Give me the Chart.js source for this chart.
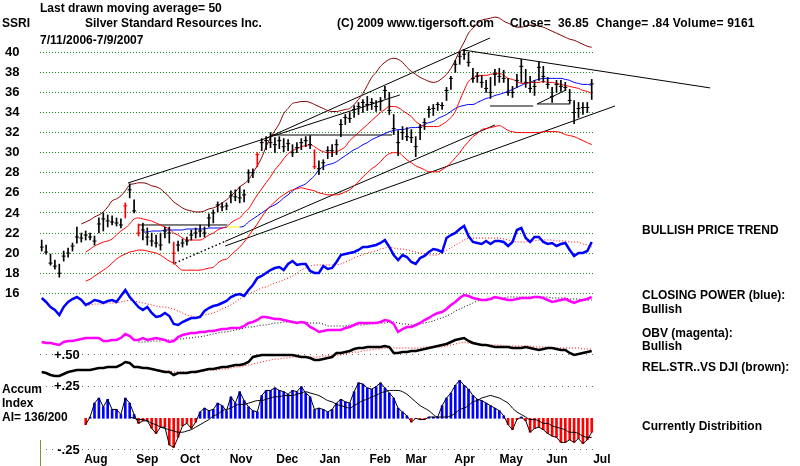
<!DOCTYPE html>
<html><head><meta charset="utf-8">
<script src="https://cdn.jsdelivr.net/npm/chart.js@4.4.1/dist/chart.umd.min.js"></script>
<style>
html,body{margin:0;padding:0;background:#fff;}
#wrap{position:relative;width:800px;height:466px;overflow:hidden;font-family:"Liberation Sans",Arial,sans-serif;font-weight:bold;font-size:12px;color:#000;}
#wrap canvas{position:absolute;left:0;top:0;}
.t{position:absolute;white-space:pre;line-height:12px;}
</style></head><body>
<div id="wrap">
<canvas id="c" width="800" height="466"></canvas>
<div class="t" style="left:40px;top:2px">Last drawn moving average= 50</div>
<div class="t" style="left:2px;top:17px">SSRI</div>
<div class="t" style="left:85px;top:17px">Silver Standard Resources Inc.</div>
<div class="t" style="left:337px;top:17px">(C) 2009 www.tigersoft.com</div>
<div class="t" style="left:510px;top:17px;letter-spacing:0.2px">Close=  36.85  Change= .84 Volume= 9161</div>
<div class="t" style="left:40px;top:34px">7/11/2006-7/9/2007</div>
<div class="t" style="left:642px;top:224px">BULLISH PRICE TREND</div>
<div class="t" style="left:642px;top:289px">CLOSING POWER (blue):</div>
<div class="t" style="left:642px;top:303px">Bullish</div>
<div class="t" style="left:642px;top:327px">OBV (magenta):</div>
<div class="t" style="left:642px;top:340px">Bullish</div>
<div class="t" style="left:642px;top:361px">REL.STR..VS DJI (brown):</div>
<div class="t" style="left:642px;top:420px">Currently Distribition</div>
<div class="t" style="left:2px;top:383px">Accum</div>
<div class="t" style="left:2px;top:397px">Index</div>
<div class="t" style="left:2px;top:411px">AI= 136/200</div>
<div style="position:absolute;left:40px;top:440px;width:1px;height:26px;background:#8a8a3a"></div>
</div>
<script>
// ---------- data (one bar every two trading days, 7/11/2006 - 7/9/2007) ----------
const high = [21.3,20.8,19.9,19.3,18.9,20.2,20.5,21.0,22.6,22.0,
22.2,22.0,21.7,23.5,24.0,23.8,23.7,23.5,23.4,25.0,
26.9,25.3,22.9,23.0,22.5,22.0,21.8,22.0,22.6,22.6,
21.1,21.2,21.4,21.6,22.3,22.5,22.8,22.6,23.9,24.3,
25.1,25.0,25.0,26.2,26.3,26.6,26.3,28.3,28.4,30.0,
31.4,31.6,32.0,31.5,31.6,31.4,31.3,30.8,31.0,31.4,
31.6,31.7,30.3,29.2,29.3,30.6,30.8,31.3,33.3,33.8,
34.0,34.7,35.0,35.3,35.6,35.4,35.2,35.5,36.6,36.0,
33.8,32.2,32.6,32.5,32.3,31.6,32.8,33.4,34.6,34.8,
35.0,35.0,36.5,37.6,39.2,40.0,40.3,40.0,38.4,38.0,
37.7,37.2,37.5,38.3,38.4,38.2,37.4,36.6,37.8,39.3,
38.3,37.6,37.2,39.0,38.6,37.5,36.5,37.2,37.2,37.0,
36.3,35.2,35.0,35.0,35.0,37.3];
const low = [20.2,19.9,18.8,18.4,17.6,19.2,19.6,20.2,21.0,21.1,
21.3,21.3,20.8,22.0,22.2,22.6,22.8,22.7,22.5,23.5,
25.5,24.0,21.7,21.3,20.8,20.7,20.6,20.3,21.5,21.0,
18.9,20.2,20.6,20.8,21.3,21.5,21.6,21.6,22.6,23.0,
24.1,24.2,24.3,25.0,25.2,25.0,25.1,27.0,27.5,28.6,
30.2,30.3,30.5,30.0,30.4,30.1,30.2,29.6,30.0,30.3,
30.6,30.4,28.4,27.8,28.3,29.4,29.6,29.8,31.6,32.8,
33.0,33.5,33.8,34.0,34.2,34.3,34.1,34.2,35.4,33.8,
31.8,29.7,31.3,31.2,31.0,29.6,31.3,32.3,33.5,33.7,
34.2,34.3,35.2,36.3,38.0,38.8,39.3,38.6,37.0,37.0,
36.5,36.0,35.4,36.7,37.0,37.0,35.7,35.5,36.5,37.0,
36.5,36.0,35.7,37.2,37.0,36.4,35.0,36.0,36.1,36.2,
34.9,32.9,33.5,33.8,34.0,35.3];
const close = [20.6,20.1,19.0,18.7,18.0,19.7,20.0,20.7,21.6,21.5,
21.8,21.6,21.2,22.9,23.4,23.2,23.1,23.0,22.8,24.7,
26.3,24.2,22.0,22.3,21.6,21.2,21.0,20.8,22.2,22.0,
20.0,20.8,21.0,21.2,21.8,22.0,22.2,22.0,23.5,24.0,
24.8,24.6,24.7,25.7,25.6,25.5,25.8,28.0,28.0,29.8,
31.0,31.2,31.0,30.8,31.2,30.6,30.9,30.0,30.5,31.0,
31.2,30.8,28.6,28.4,29.0,30.2,30.2,30.8,32.8,33.5,
33.4,34.3,34.6,35.0,34.8,35.0,34.6,35.1,36.2,34.2,
32.4,31.0,32.0,31.6,31.5,30.6,32.5,33.0,34.3,34.4,
34.8,34.7,36.2,37.4,38.8,39.6,39.8,39.0,37.4,37.6,
37.0,36.4,36.0,37.8,37.6,37.4,36.0,36.0,37.2,38.6,
37.0,36.4,36.6,38.5,37.6,36.8,35.6,36.8,36.6,36.5,
35.2,34.0,34.4,34.5,34.5,36.85];
const redBarDays = [19,22,30,49,62];

const upperBandStart = 9;
const upperBand = [22.9,23.1,23.3,23.6,23.8,24.1,24.6,25.2,25.4,25.7,
26.2,26.8,26.9,27.0,27.0,26.9,26.7,26.6,26.4,26.0,
25.6,25.1,24.8,24.5,24.3,24.2,24.1,24.1,24.2,24.4,
24.5,24.7,25.0,25.3,25.7,26.1,26.6,26.9,27.3,28.0,
28.7,29.5,30.6,31.5,32.2,32.9,33.9,34.4,34.9,35.0,
35.1,35.1,35.0,34.8,34.6,34.4,34.2,34.1,34.1,34.2,
34.3,34.4,34.8,35.3,35.9,36.7,37.5,38.0,38.6,39.0,
39.3,39.4,39.3,39.0,38.5,38.1,37.8,37.5,37.3,37.1,
37.0,37.1,37.4,37.8,38.4,39.2,40.2,41.0,41.9,42.4,
42.8,43.2,43.3,43.4,43.5,43.4,43.1,42.9,42.7,42.5,
42.5,42.6,42.7,42.7,42.6,42.5,42.3,42.1,41.9,41.7,
41.5,41.3,41.2,41.0,40.8,40.6,40.5];
const midAvgStart = 10;
const midAvg = [20.1,20.4,20.7,20.9,21.1,21.2,21.4,21.8,22.2,22.5,
22.9,23.4,23.5,23.4,23.3,23.2,23.0,22.8,22.6,22.4,
22.0,21.8,21.5,21.3,21.3,21.3,21.3,21.5,21.8,22.0,
22.3,22.5,22.6,23.0,23.3,23.5,24.0,24.4,25.1,25.8,
26.4,27.0,27.6,28.3,28.8,29.4,29.9,30.2,30.4,30.6,
30.7,30.8,30.6,30.3,30.1,30.0,30.0,30.1,30.3,30.6,
31.2,31.6,32.0,32.4,32.8,33.2,33.6,34.0,34.3,34.6,
34.6,34.5,34.2,33.9,33.6,33.1,32.8,32.6,32.6,32.6,
32.6,32.8,33.1,33.5,34.1,35.2,36.2,37.1,37.4,37.7,
37.7,37.7,37.8,37.9,37.9,37.7,37.4,37.3,37.1,36.9,
36.9,37.0,37.0,37.0,37.1,37.0,37.0,36.9,36.8,36.7,
36.6,36.5,36.4,36.2,36.1,35.9];
const lowerBandStart = 10;
const lowerBand = [17.2,17.4,17.7,18.0,18.3,18.6,19.0,19.4,19.7,19.9,
20.1,20.2,20.3,20.3,20.2,20.1,20.0,19.8,19.5,19.2,
19.0,18.6,18.3,18.3,18.3,18.3,18.3,18.4,18.5,18.6,
19.0,19.3,19.4,19.8,20.2,20.6,21.1,21.7,22.3,22.9,
23.6,24.2,24.7,25.1,25.5,25.8,26.1,26.3,26.4,26.5,
26.4,26.3,26.2,26.0,25.9,25.8,25.8,25.8,25.9,26.1,
26.3,26.7,27.1,27.6,28.0,28.4,28.7,29.1,29.6,29.9,
30.0,30.0,29.7,29.3,29.0,28.7,28.5,28.3,28.1,28.1,
28.1,28.3,28.6,29.0,29.5,30.0,30.6,31.1,31.6,31.9,
32.3,32.4,32.5,32.6,32.7,32.5,32.2,32.1,32.0,32.0,
32.0,32.0,32.0,32.0,32.1,32.1,32.1,32.1,32.0,31.8,
31.7,31.6,31.4,31.2,31.0,30.8];
const ma50Start = 23;
const ma50 = [22.1,22.1,22.2,22.2,22.2,22.3,22.3,22.3,22.3,22.3,
22.4,22.4,22.4,22.4,22.4,22.5,22.5,22.5,22.5,22.6,
22.6,22.6,22.6,22.7,23.1,23.4,23.7,24.0,24.3,24.6,
24.8,25.1,25.5,25.8,26.2,26.5,26.7,26.9,27.3,27.7,
28.3,28.6,28.8,28.9,29.1,29.4,29.7,30.0,30.3,30.5,
30.8,31.0,31.3,31.5,31.7,31.9,32.1,32.2,32.3,32.3,
32.4,32.5,32.5,32.6,32.8,33.0,33.1,33.4,33.6,33.8,
34.1,34.4,34.6,34.7,34.8,34.8,35.0,35.2,35.4,35.5,
35.7,35.8,35.95,36.1,36.3,36.5,36.7,36.9,37.0,37.2,
37.3,37.4,37.4,37.4,37.4,37.4,37.3,37.2,37.0,36.9,
36.8,36.8,36.7];

// trend lines: [day1, price1, day2, price2]
const trendLines = [
  [19.6,26.98,81.4,35.75],
  [51.2,31.47,101.9,41.43],
  [95.7,40.23,151.9,36.45],
  [41.7,21.17,103.0,32.76],
  [41.7,20.71,130.3,34.65],
  [21.9,22.8,42.2,22.8],
  [51.9,31.76,79.6,31.76],
  [101.9,34.65,111.7,34.65],
  [112.6,34.85,120.1,34.85],
  [112.6,34.85,119.2,36.25]
];
const dottedTrendLines = [[30.3,19.01,41.7,21.17]];

// indicators (relative units)
const closingPower = [32,28,23,20,15,23,28,31,33,30,
25,27,30,29,27,29,30,28,34,40,
33,28,23,20,23,17,13,14,17,14,
6,5,8,10,12,12,13,19,22,24,
25,27,29,33,35,36,34,40,45,52,
54,57,60,62,63,60,66,69,65,66,
66,59,57,57,64,61,62,68,75,76,
77,78,80,83,83,84,85,87,90,83,
75,70,75,73,68,66,72,74,78,81,
80,78,92,95,97,101,104,94,88,87,
86,89,86,89,89,88,84,88,100,102,
92,88,93,93,88,86,87,84,86,87,
80,74,77,77,79,88];
const cpAvgStart = 10;
const cpAvg = [25,25,26,26,26,27,27,27,28,29,
30,29,28,27,26,25,24,23,23,22,
21,19,17,15,14,13,14,15,16,17,
19,21,23,25,28,31,34,36,38,40,
42,43,45,47,48,50,52,54,57,60,
62,64,65,65,65,65,65,65,66,68,
70,72,74,75,77,78,79,81,82,83,
82,81,81,80,79,78,77,76,75,75,
75,77,80,82,85,87,90,92,92,92,
92,92,92,92,92,91,90,89,88,88,
88,89,89,90,90,90,90,89,89,89,
88,88,88,86,85,83];
const obv = [8,7,7,6,5,8,9,9,10,11,
12,12,12,12,9,9,10,10,12,16,
14,10,10,12,10,11,12,11,10,8,
9,13,15,16,17,17,18,18,19,19,
20,21,21,22,22,22,24,27,28,30,
33,33,32,31,31,30,29,28,27,28,
27,23,21,18,19,20,20,20,20,22,
23,25,27,27,27,27,27,28,30,29,
26,18,21,23,23,25,27,30,32,35,
37,38,41,45,48,52,55,54,52,51,
50,50,51,53,52,51,50,50,51,52,
52,52,53,53,52,50,48,49,50,51,
49,47,49,50,51,53];
const obvAvgStart = 22;
const obvAvg = [8,8,8,9,9,9,10,10,10,11,
11,12,12,13,13,14,15,16,17,18,
18,19,20,21,22,23,23,24,25,25,
26,27,27,28,28,28,28,28,28,27,
27,27,26,24,24,24,24,24,25,25,
25,25,26,26,27,27,27,28,28,27,
26,26,25,25,26,27,28,29,31,32,
34,36,39,41,43,45,47,49,50,51,
51,52,52,52,53,53,53,53,53,53,
53,53,53,53,52,52,52,52,51,51,
51,50,50,50];
const relStr = [8,7,5,4,4,6,8,9,10,10,
10,10,11,12,12,13,13,13,15,18,
17,13,13,12,12,11,10,9,8,8,
5,7,7,7,8,8,9,10,11,11,
12,13,13,14,15,15,16,18,23,24,
25,25,25,25,25,25,25,25,24,23,
23,22,20,20,21,22,23,27,27,28,
29,31,32,32,33,33,33,33,34,33,
27,27,28,28,29,29,30,31,32,33,
34,35,36,38,40,41,42,39,37,36,
35,35,34,33,33,33,33,32,32,32,
33,32,31,30,31,32,32,31,30,30,
27,25,26,27,28,29];
const relStrAvgStart = 22;
const relStrAvg = [12,12,11,11,10,10,9,9,8,8,
8,8,8,9,9,9,10,10,10,11,
11,12,13,13,14,15,16,17,18,19,
20,21,21,22,22,23,23,23,23,23,
23,23,24,24,25,25,25,26,27,28,
28,29,30,30,31,31,32,32,32,32,
32,32,32,32,32,33,33,33,33,33,
34,35,36,37,38,37,36,36,36,35,
35,35,35,34,34,34,34,34,34,34,
33,33,33,33,32,32,32,32,32,32,
32,31,31,31];
const accumStart = 10;
const accum = [-0.05,0.01,0.12,0.16,0.09,0.15,0.07,0.07,0.03,0.16,
0.12,0.03,-0.04,-0.02,-0.02,-0.08,-0.12,-0.07,-0.07,-0.21,
-0.23,-0.15,-0.06,-0.04,-0.08,-0.03,0.05,0.08,0.06,0.07,
0.12,0.10,0.06,0.17,0.12,0.21,0.14,0.09,0.06,0.05,
0.18,0.22,0.22,0.24,0.22,0.21,0.19,0.22,0.21,0.25,
0.20,0.17,0.07,0.08,0.07,0.05,0.07,0.12,0.15,0.13,
0.12,0.21,0.28,0.27,0.24,0.23,0.25,0.28,0.24,0.20,
0.16,0.08,0.05,0.02,-0.03,0.00,-0.01,-0.01,0.01,0.01,
0.01,0.10,0.16,0.20,0.26,0.30,0.26,0.23,0.18,0.15,
0.14,0.12,0.10,0.08,0.06,0.02,-0.05,-0.09,-0.01,0.01,
-0.02,-0.11,-0.08,-0.07,-0.09,-0.12,-0.14,-0.15,-0.19,-0.19,
-0.17,-0.19,-0.16,-0.20,-0.17,-0.11];
const accumAvgStart = 20;
const accumAvg = [0.01,0.00,-0.01,-0.01,-0.02,-0.04,-0.05,-0.07,-0.08,-0.09,
-0.10,-0.11,-0.11,-0.10,-0.09,-0.07,-0.05,-0.03,-0.01,0.02,
0.03,0.06,0.07,0.08,0.10,0.11,0.11,0.12,0.13,0.14,
0.14,0.15,0.16,0.17,0.17,0.18,0.18,0.18,0.19,0.20,
0.21,0.20,0.19,0.18,0.16,0.14,0.13,0.11,0.10,0.09,
0.08,0.10,0.12,0.14,0.15,0.17,0.18,0.20,0.21,0.22,
0.22,0.22,0.21,0.19,0.16,0.13,0.10,0.08,0.06,0.03,
0.01,0.01,0.01,0.02,0.04,0.07,0.08,0.10,0.13,0.14,
0.16,0.17,0.18,0.17,0.16,0.14,0.12,0.08,0.05,0.03,
0.01,-0.01,-0.01,-0.02,-0.04,-0.04,-0.06,-0.07,-0.08,-0.09,
-0.11,-0.11,-0.12,-0.14,-0.15,-0.15];

const priceTicks = [16,18,20,22,24,26,28,30,32,34,36,38,40];
const accumTicks = [0.5,0.25,-0.25];
const accumTickLabels = ['+.50','+.25','-.25'];
const monthLabels = ['Aug','Sep','Oct','Nov','Dec','Jan','Feb','Mar','Apr','May','Jun','Jul'];
const monthTicks = [12.3,24.0,33.7,45.3,55.8,65.5,76.9,85.1,96.1,106.7,117.1,127.3];

// ---------- chart ----------
const FONT = '"Liberation Sans", Arial, sans-serif';
Chart.defaults.font.family = FONT;
const pts = (start, arr) => arr.map((v, i) => ({x: start + i, y: v}));
const barColor = ctx => redBarDays.includes(ctx.dataIndex) ? '#ff0000' : '#000000';
const line = (data, axis, color, width, extra) => Object.assign({
  type: 'line', data, yAxisID: axis, borderColor: color, borderWidth: width,
  pointRadius: 0, fill: false, tension: 0
}, extra || {});

const datasets = [];
datasets.push({type: 'line', data: pts(0, close), yAxisID: 'yP', showLine: false,
  pointStyle: 'line', pointRadius: 2, pointBorderWidth: 1, pointBorderColor: barColor, order: 1});
datasets.push({type: 'bar', data: high.map((h, i) => ({x: i, y: [low[i], h]})), yAxisID: 'yP',
  backgroundColor: barColor, barThickness: 1, grouped: false, order: 2});
datasets.push(line(pts(0, closingPower), 'yCP', '#0000ff', 2.5, {order: 3}));
datasets.push(line(pts(0, obv), 'yOBV', '#ff00ff', 2.5, {order: 3}));
datasets.push(line(pts(0, relStr), 'yRS', '#000000', 2.5, {order: 3}));
datasets.push(line(pts(cpAvgStart, cpAvg), 'yCP', '#ff0000', 1, {borderDash: [1, 2], order: 4}));
datasets.push(line(pts(obvAvgStart, obvAvg), 'yOBV', '#000000', 1, {borderDash: [1, 2], order: 4}));
datasets.push(line(pts(relStrAvgStart, relStrAvg), 'yRS', '#ff0000', 1, {borderDash: [1, 2], order: 4}));
datasets.push(line(pts(upperBandStart, upperBand), 'yP', '#800000', 1, {cubicInterpolationMode: 'monotone', order: 5, clip: false}));
datasets.push(line(pts(midAvgStart, midAvg), 'yP', '#ff0000', 1, {cubicInterpolationMode: 'monotone', order: 5}));
datasets.push(line(pts(lowerBandStart, lowerBand), 'yP', '#ff0000', 1, {cubicInterpolationMode: 'monotone', order: 5}));
datasets.push(line(pts(ma50Start, ma50), 'yP', '#0000ff', 1, {cubicInterpolationMode: 'monotone', order: 5,
  segment: {borderColor: c => (c.p0.parsed.x >= 42 && c.p0.parsed.x < 45) ? '#ffff00' : undefined}}));
trendLines.forEach(t => datasets.push(line([{x: t[0], y: t[1]}, {x: t[2], y: t[3]}], 'yP', '#000000', 1, {order: 6, clip: false})));
dottedTrendLines.forEach(t => datasets.push(line([{x: t[0], y: t[1]}, {x: t[2], y: t[3]}], 'yP', '#000000', 1.5, {borderDash: [1.5, 2.5], order: 6, clip: false})));
datasets.push(line(pts(accumStart, accum), 'yA', '#000000', 1, {order: 7}));
datasets.push(line(pts(accumAvgStart, accumAvg), 'yA', '#000000', 1, {cubicInterpolationMode: 'monotone', order: 7}));
datasets.push({type: 'bar', data: pts(accumStart, accum), yAxisID: 'yA',
  backgroundColor: ctx => (ctx.raw && ctx.raw.y >= 0) ? '#0000ff' : '#ff0000',
  barThickness: 2, grouped: false, order: 8});

const zeroPad = s => { s.paddingTop = 0; s.paddingBottom = 0; s.paddingLeft = 0; s.paddingRight = 0; };
const hidden = (min, max) => ({type: 'linear', display: false, min, max});

new Chart(document.getElementById('c'), {
  type: 'line',
  data: {datasets},
  options: {
    responsive: false, animation: false, devicePixelRatio: 1, events: [],
    layout: {padding: {left: 5, top: 10, right: 206, bottom: 0}},
    plugins: {legend: {display: false}, tooltip: {enabled: false}, title: {display: false}},
    scales: {
      x: {type: 'linear', min: -0.386, max: 125.52, offset: false,
        grid: {display: false, drawTicks: false}, border: {display: false},
        afterBuildTicks: s => { s.ticks = monthTicks.map(v => ({value: v})); },
        afterFit: s => { s.height = 15; zeroPad(s); },
        ticks: {autoSkip: false, maxRotation: 0, padding: 1, color: '#000',
          font: {size: 12, weight: 'bold'}, callback: (v, i) => monthLabels[i]}},
      yP: {type: 'linear', position: 'left', min: 0.29, max: 44.21, weight: 2,
        afterBuildTicks: s => { s.ticks = priceTicks.map(v => ({value: v})); },
        afterFit: s => { s.width = 35; zeroPad(s); },
        grid: {color: '#1a8f1a', lineWidth: 1, drawTicks: false},
        border: {display: false, dash: [1, 2]},
        ticks: {crossAlign: 'far', padding: 0, color: '#000', font: {size: 13, weight: 'bold'}, callback: v => String(v)}},
      yA: {type: 'linear', position: 'left', min: -0.2581, max: 3.2226, weight: 1,
        afterBuildTicks: s => { s.ticks = accumTicks.map(v => ({value: v})); },
        afterFit: s => { s.width = 0; zeroPad(s); },
        grid: {color: '#6a6a6a', lineWidth: 1, drawTicks: false},
        border: {display: false, dash: [1, 5]},
        ticks: {mirror: true, crossAlign: 'far', padding: 14, color: '#000', font: {size: 13, weight: 'bold'},
          callback: (v, i) => accumTickLabels[i]}},
      yCP: hidden(-121, 320),
      yOBV: hidden(-101, 340),
      yRS: hidden(-71, 370)
    }
  }
});
</script>
</body></html>
